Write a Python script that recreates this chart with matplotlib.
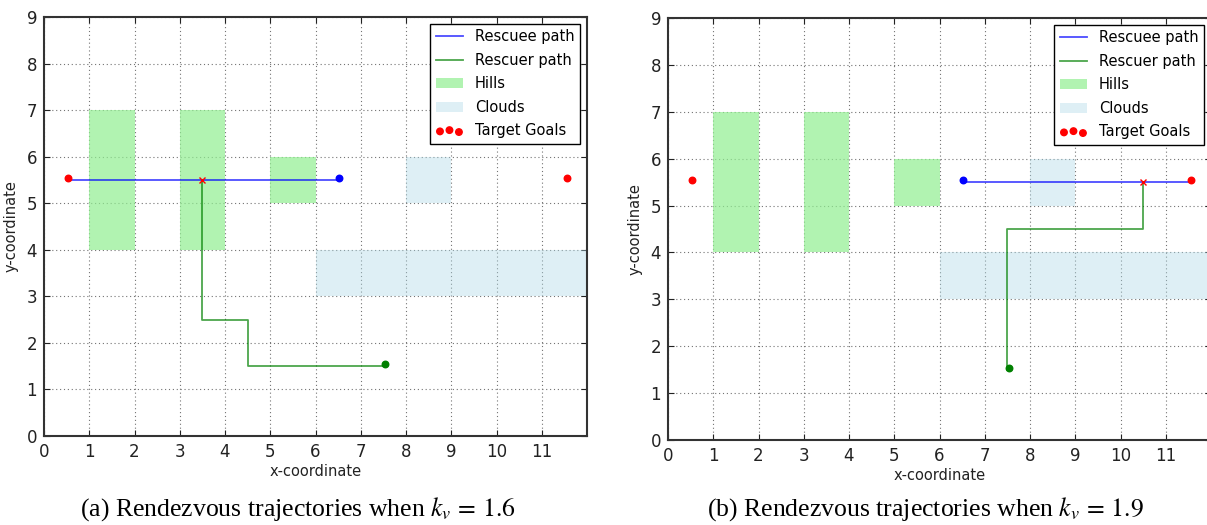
import matplotlib
matplotlib.use('Agg')
import matplotlib.pyplot as plt
from matplotlib.patches import Rectangle

plt.rcParams['font.family'] = ['DejaVu Sans']
plt.rcParams['mathtext.fontset'] = 'stix'

# obstacles: (x, y, width, height)
hills = [(1, 4, 1, 3), (3, 4, 1, 3), (5, 5, 1, 1)]
clouds = [(8, 5, 1, 1), (6, 3, 6, 1)]

goals_x = [0.53, 11.55]
goals_y = [5.54, 5.54]

# panel (a) k_v = 1.6
a_rescuee_x = [0.5, 6.5]
a_rescuee_y = [5.5, 5.5]
a_rescuee_start = (6.53, 5.54)
a_rescuer_x = [7.5, 4.5, 4.5, 3.5, 3.5]
a_rescuer_y = [1.5, 1.5, 2.5, 2.5, 5.5]
a_rescuer_start = (7.53, 1.54)
a_meet = (3.5, 5.5)

# panel (b) k_v = 1.9
b_rescuee_x = [6.5, 11.5]
b_rescuee_y = [5.5, 5.5]
b_rescuee_start = (6.53, 5.54)
b_rescuer_x = [7.5, 7.5, 10.5, 10.5]
b_rescuer_y = [1.5, 4.5, 4.5, 5.5]
b_rescuer_start = (7.53, 1.54)
b_meet = (10.5, 5.5)

captions = [r'(a) Rendezvous trajectories when $k_v\,=\,1.6$',
            r'(b) Rendezvous trajectories when $k_v\,=\,1.9$']


def draw(ax, rx, ry, rstart, sx, sy, sstart, meet):
    for i, h in enumerate(hills):
        ax.add_patch(Rectangle(h[:2], h[2], h[3], facecolor='lightgreen', edgecolor='none',
                               alpha=0.7, label='Hills' if i == 0 else None, zorder=1))
    for i, c in enumerate(clouds):
        ax.add_patch(Rectangle(c[:2], c[2], c[3], facecolor='lightblue', edgecolor='none',
                               alpha=0.4, label='Clouds' if i == 0 else None, zorder=1))
    ax.plot(rx, ry, color='b', alpha=0.7, lw=1.3, label='Rescuee path', zorder=3)
    ax.plot(sx, sy, color='g', alpha=0.7, lw=1.3, label='Rescuer path', zorder=3)
    ax.scatter(goals_x, goals_y, color='r', s=22, label='Target Goals', zorder=4)
    ax.scatter([rstart[0]], [rstart[1]], color='b', s=22, zorder=4)
    ax.scatter([sstart[0]], [sstart[1]], color='g', s=22, zorder=4)
    ax.plot([meet[0]], [meet[1]], 'rx', ms=4.5, mew=1, zorder=5)

    ax.set_xlim(0, 12)
    ax.set_ylim(0, 9)
    ax.set_xticks(range(12))
    ax.set_yticks(range(10))
    ax.grid(True, color='0.45', linestyle=(0, (1, 2.5)), lw=0.8)
    ax.set_axisbelow(True)
    ax.tick_params(direction='in', length=4, labelsize=12, colors='#222222', pad=5)
    ax.tick_params(top=True, right=True)
    for s in ax.spines.values():
        s.set_linewidth(1.5)
        s.set_color('#333333')
    ax.set_xlabel('x-coordinate', fontsize=10.5, labelpad=2, color='#222222')
    ax.set_ylabel('y-coordinate', fontsize=10.5, labelpad=6, color='#222222')

    h, l = ax.get_legend_handles_labels()
    order = ['Rescuee path', 'Rescuer path', 'Hills', 'Clouds', 'Target Goals']
    hl = dict(zip(l, h))
    leg = ax.legend([hl[k] for k in order], order, loc='upper right', fontsize=10.5,
                    fancybox=False, framealpha=1, edgecolor='black',
                    scatterpoints=3, scatteryoffsets=[0.375, 0.5, 0.3125],
                    handlelength=1.9, handletextpad=0.8, labelspacing=0.58,
                    borderaxespad=0.45, borderpad=0.4)
    leg.get_frame().set_linewidth(1.0)


fig = plt.figure(figsize=(12.07, 5.25), dpi=100)
W, H = 1207, 525
ax1 = fig.add_axes([44 / W, (H - 436) / H, 543 / W, 419 / H])
ax2 = fig.add_axes([668 / W, (H - 440) / H, 543 / W, 422 / H])

draw(ax1, a_rescuee_x, a_rescuee_y, a_rescuee_start, a_rescuer_x, a_rescuer_y,
     a_rescuer_start, a_meet)
draw(ax2, b_rescuee_x, b_rescuee_y, b_rescuee_start, b_rescuer_x, b_rescuer_y,
     b_rescuer_start, b_meet)

fig.text(298 / W, 1 - 509 / H, captions[0], ha='center', va='center',
         fontsize=18.5, family='Liberation Serif')
fig.text(925 / W, 1 - 509 / H, captions[1], ha='center', va='center',
         fontsize=18.5, family='Liberation Serif')

fig.savefig('out.png', dpi=100)
